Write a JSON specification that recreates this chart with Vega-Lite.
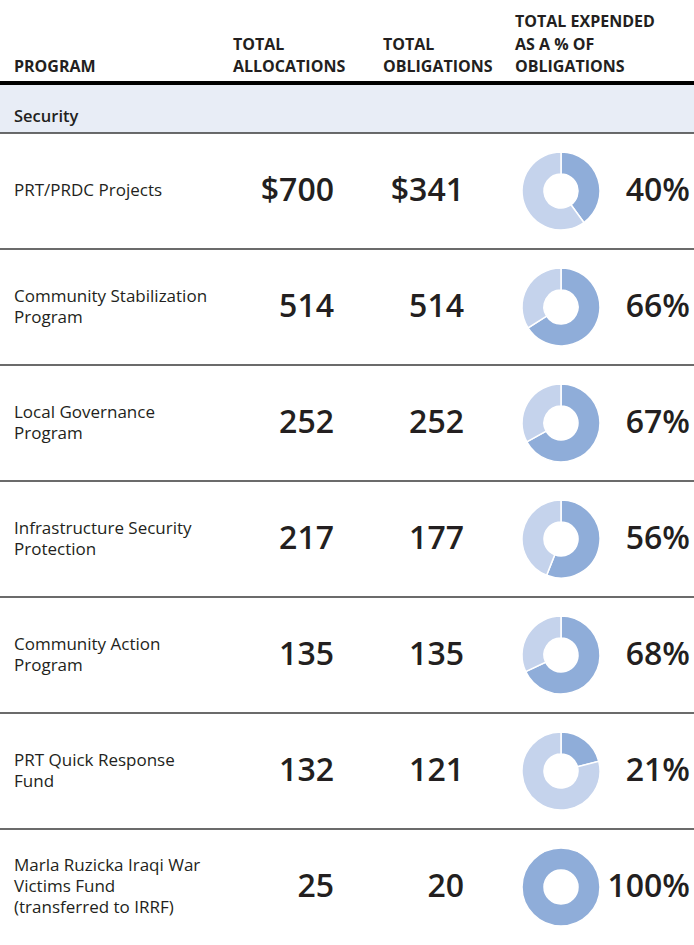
{
  "$schema": "https://vega.github.io/schema/vega-lite/v6.json",
  "width": 694,
  "height": 945,
  "padding": 0,
  "autosize": {"type": "none"},
  "background": "white",
  "config": {
    "view": {"stroke": null},
    "text": {"font": "Open Sans", "color": "#231f20"}
  },
  "datasets": {
    "programs": [
      {"Order": 1, "Program": "PRT/PRDC Projects", "Allocations": 700, "Obligations": 341, "Expended": 40},
      {"Order": 2, "Program": "Community Stabilization\nProgram", "Allocations": 514, "Obligations": 514, "Expended": 66},
      {"Order": 3, "Program": "Local Governance\nProgram", "Allocations": 252, "Obligations": 252, "Expended": 67},
      {"Order": 4, "Program": "Infrastructure Security\nProtection", "Allocations": 217, "Obligations": 177, "Expended": 56},
      {"Order": 5, "Program": "Community Action\nProgram", "Allocations": 135, "Obligations": 135, "Expended": 68},
      {"Order": 6, "Program": "PRT Quick Response\nFund", "Allocations": 132, "Obligations": 121, "Expended": 21},
      {"Order": 7, "Program": "Marla Ruzicka Iraqi War\nVictims Fund\n(transferred to IRRF)", "Allocations": 25, "Obligations": 20, "Expended": 100}
    ]
  },
  "layer": [
    {
      "data": {"values": [{"Group": "Security"}]},
      "mark": {"type": "rect", "color": "#e8edf6"},
      "encoding": {"x": {"value": 0}, "x2": {"value": "width"}, "y": {"value": 85}, "y2": {"value": 133}}
    },
    {
      "data": {"values": [{"Group": "Security"}]},
      "mark": {"type": "text", "align": "left", "baseline": "middle", "fontSize": 16.5, "fontWeight": 600},
      "encoding": {"text": {"field": "Group"}, "x": {"value": 14}, "y": {"value": 117}}
    },
    {
      "data": {"values": [{"Line": "header"}]},
      "mark": {"type": "rule", "color": "#000000", "strokeWidth": 4},
      "encoding": {"y": {"value": 83}}
    },
    {
      "data": {"values": [{"Title": "PROGRAM"}]},
      "mark": {"type": "text", "align": "left", "baseline": "alphabetic", "fontSize": 16, "fontWeight": "bold", "letterSpacing": 0.6, "lineBreak": "\n", "lineHeight": 22.5},
      "encoding": {"text": {"field": "Title"}, "x": {"value": 14}, "y": {"value": 72}}
    },
    {
      "data": {"values": [{"Title": "TOTAL\nALLOCATIONS"}]},
      "mark": {"type": "text", "align": "left", "baseline": "alphabetic", "fontSize": 16, "fontWeight": "bold", "letterSpacing": 0.6, "lineBreak": "\n", "lineHeight": 22.5},
      "encoding": {"text": {"field": "Title"}, "x": {"value": 233}, "y": {"value": 49.5}}
    },
    {
      "data": {"values": [{"Title": "TOTAL\nOBLIGATIONS"}]},
      "mark": {"type": "text", "align": "left", "baseline": "alphabetic", "fontSize": 16, "fontWeight": "bold", "letterSpacing": 0.6, "lineBreak": "\n", "lineHeight": 22.5},
      "encoding": {"text": {"field": "Title"}, "x": {"value": 383}, "y": {"value": 49.5}}
    },
    {
      "data": {"values": [{"Title": "TOTAL EXPENDED\nAS A % OF\nOBLIGATIONS"}]},
      "mark": {"type": "text", "align": "left", "baseline": "alphabetic", "fontSize": 16, "fontWeight": "bold", "letterSpacing": 0.6, "lineBreak": "\n", "lineHeight": 22.5},
      "encoding": {"text": {"field": "Title"}, "x": {"value": 515}, "y": {"value": 27}}
    },
    {
      "data": {"name": "programs"},
      "mark": {"type": "rule", "color": "#3a3a3a", "strokeWidth": 1.5},
      "encoding": {
        "y": {"field": "Order", "type": "ordinal", "bandPosition": 0, "scale": {"type": "band", "range": [133, 945], "paddingInner": 0, "paddingOuter": 0}, "axis": null}
      }
    },
    {
      "data": {"name": "programs"},
      "transform": [
        {"calculate": "split(datum.Program, '\\n')", "as": "Lines"},
        {"flatten": ["Lines"], "as": ["Line"]},
        {"window": [{"op": "row_number", "as": "LineNo"}], "groupby": ["Order"]},
        {"joinaggregate": [{"op": "count", "as": "LineCount"}], "groupby": ["Order"]},
        {"calculate": "datum.LineNo - (datum.LineCount + 1) / 2", "as": "LinePos"}
      ],
      "mark": {"type": "text", "align": "left", "baseline": "middle", "fontSize": 17, "letterSpacing": 0.9},
      "encoding": {
        "text": {"field": "Line"},
        "x": {"value": 14},
        "y": {"field": "Order", "type": "ordinal", "scale": {"type": "band", "range": [133, 945], "paddingInner": 0, "paddingOuter": 0}, "axis": null},
        "yOffset": {"field": "LinePos", "type": "quantitative", "scale": {"domain": [-1, 1], "range": [37, 79]}}
      }
    },
    {
      "data": {"name": "programs"},
      "transform": [{"calculate": "(datum.Order == 1 ? '$' : '') + format(datum.Allocations, 'd')", "as": "AllocLabel"}],
      "mark": {"type": "text", "align": "right", "baseline": "middle", "fontSize": 32, "fontWeight": 600},
      "encoding": {
        "text": {"field": "AllocLabel"},
        "x": {"value": 334},
        "y": {"field": "Order", "type": "ordinal", "scale": {"type": "band", "range": [133, 945], "paddingInner": 0, "paddingOuter": 0}, "axis": null}
      }
    },
    {
      "data": {"name": "programs"},
      "transform": [{"calculate": "(datum.Order == 1 ? '$' : '') + format(datum.Obligations, 'd')", "as": "OblLabel"}],
      "mark": {"type": "text", "align": "right", "baseline": "middle", "fontSize": 32, "fontWeight": 600},
      "encoding": {
        "text": {"field": "OblLabel"},
        "x": {"value": 464},
        "y": {"field": "Order", "type": "ordinal", "scale": {"type": "band", "range": [133, 945], "paddingInner": 0, "paddingOuter": 0}, "axis": null}
      }
    },
    {
      "data": {"name": "programs"},
      "transform": [{"calculate": "format(datum.Expended, 'd') + '%'", "as": "PctLabel"}],
      "mark": {"type": "text", "align": "right", "baseline": "middle", "fontSize": 32, "fontWeight": 600},
      "encoding": {
        "text": {"field": "PctLabel"},
        "x": {"value": 690},
        "y": {"field": "Order", "type": "ordinal", "scale": {"type": "band", "range": [133, 945], "paddingInner": 0, "paddingOuter": 0}, "axis": null}
      }
    },
    {
      "data": {"name": "programs"},
      "transform": [
        {"calculate": "100 - datum.Expended", "as": "Remaining"},
        {"fold": ["Expended", "Remaining"], "as": ["Segment", "Share"]},
        {"stack": "Share", "groupby": ["Order"], "sort": [{"field": "Segment", "order": "ascending"}], "as": ["t0", "t1"]},
        {"filter": "datum.Share > 0"}
      ],
      "mark": {"type": "arc", "outerRadius": 39, "innerRadius": 17, "stroke": "white", "strokeWidth": 1.5},
      "encoding": {
        "x": {"value": 561},
        "y": {"field": "Order", "type": "ordinal", "scale": {"type": "band", "range": [133, 945], "paddingInner": 0, "paddingOuter": 0}, "axis": null},
        "theta": {"field": "t0", "type": "quantitative", "stack": null, "scale": {"domain": [0, 100], "range": [0, 6.283185307179586], "nice": false}},
        "theta2": {"field": "t1"},
        "color": {"field": "Segment", "type": "nominal", "scale": {"domain": ["Expended", "Remaining"], "range": ["#8fadd9", "#c5d3ec"]}, "legend": null}
      }
    }
  ]
}
